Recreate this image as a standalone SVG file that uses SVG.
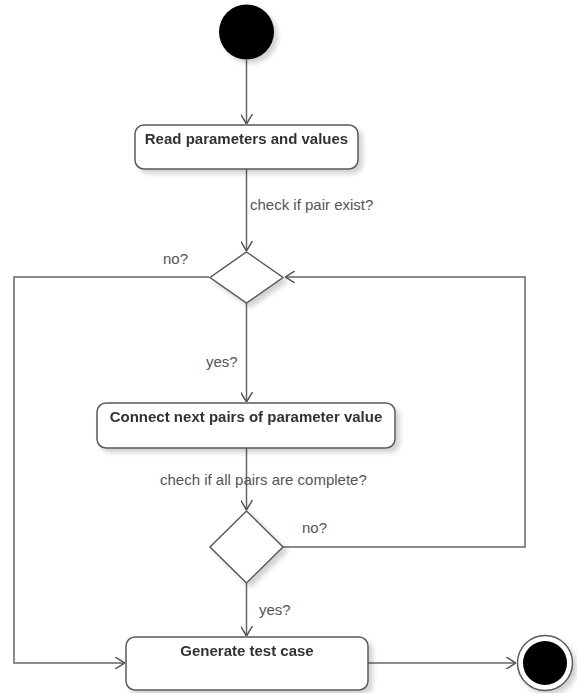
<svg xmlns="http://www.w3.org/2000/svg" width="577" height="693" viewBox="0 0 577 693">
  <style>
    .node { fill: #ffffff; stroke: #5a5a5a; stroke-width: 1.5; }
    .title { font-family: "Liberation Sans", Arial, sans-serif; font-size: 15px; font-weight: bold; fill: #333333; text-anchor: middle; }
    .lbl { font-family: "Liberation Sans", Arial, sans-serif; font-size: 15px; fill: #555555; }
    .edge { fill: none; stroke: #666666; stroke-width: 1.5; }
  </style>
  <defs>
    <marker id="arrow" viewBox="0 0 10 12" refX="10" refY="6" markerWidth="10" markerHeight="12" markerUnits="userSpaceOnUse" orient="auto">
      <path d="M0,0 L10,6 L0,12" fill="none" stroke="#555555" stroke-width="1.5"/>
    </marker>
    <filter id="shadow" x="-20%" y="-20%" width="150%" height="150%">
      <feGaussianBlur in="SourceAlpha" stdDeviation="2.5"/>
      <feOffset dx="4" dy="4" result="b"/>
      <feComponentTransfer><feFuncA type="linear" slope="0.18"/></feComponentTransfer>
      <feMerge><feMergeNode/><feMergeNode in="SourceGraphic"/></feMerge>
    </filter>
  </defs>

  <rect width="577" height="693" fill="#ffffff"/>

  <g id="connectors">
    <line class="edge" x1="246.5" y1="60" x2="246.5" y2="124" marker-end="url(#arrow)"/>
    <line class="edge" x1="246.5" y1="169" x2="246.5" y2="251" marker-end="url(#arrow)"/>
    <text class="lbl" x="250" y="210">check if pair exist?</text>
    <polyline class="edge" points="209,277 14,277 14,663 125,663" marker-end="url(#arrow)"/>
    <text class="lbl" x="163" y="264">no?</text>
    <line class="edge" x1="246.5" y1="303" x2="246.5" y2="402" marker-end="url(#arrow)"/>
    <text class="lbl" x="206" y="367">yes?</text>
    <line class="edge" x1="246.5" y1="448" x2="246.5" y2="510" marker-end="url(#arrow)"/>
    <text class="lbl" x="160" y="485">chech if all pairs are complete?</text>
    <polyline class="edge" points="283,547 525,547 525,277 285,277" marker-end="url(#arrow)"/>
    <text class="lbl" x="302" y="533">no?</text>
    <line class="edge" x1="246.5" y1="583" x2="246.5" y2="636" marker-end="url(#arrow)"/>
    <text class="lbl" x="259" y="615">yes?</text>
    <line class="edge" x1="368" y1="663" x2="516" y2="663" marker-end="url(#arrow)"/>
  </g>

  <g id="start">
    <circle cx="246.5" cy="32" r="27.5" fill="#000000" filter="url(#shadow)"/>
  </g>

  <g id="read-parameters" filter="url(#shadow)">
    <rect class="node" x="135" y="125" width="223" height="44" rx="9"/>
    <text class="title" x="246.5" y="144">Read parameters and values</text>
  </g>

  <g id="decision-pair-exist" filter="url(#shadow)">
    <polygon class="node" points="246.5,252 283,277.5 246.5,303 210,277.5"/>
  </g>

  <g id="connect-pairs" filter="url(#shadow)">
    <rect class="node" x="97" y="403" width="298" height="45" rx="9"/>
    <text class="title" x="246" y="422">Connect next pairs of parameter value</text>
  </g>

  <g id="decision-complete" filter="url(#shadow)">
    <polygon class="node" points="246.5,511 283,547 246.5,583 210,547"/>
  </g>

  <g id="generate-test-case" filter="url(#shadow)">
    <rect class="node" x="126" y="637" width="242" height="53" rx="9"/>
    <text class="title" x="247" y="656">Generate test case</text>
  </g>

  <g id="end" filter="url(#shadow)">
    <circle cx="545" cy="663" r="27.5" fill="#ffffff" stroke="#5a5a5a" stroke-width="1.5"/>
    <circle cx="545" cy="663" r="22" fill="#000000"/>
  </g>
</svg>
